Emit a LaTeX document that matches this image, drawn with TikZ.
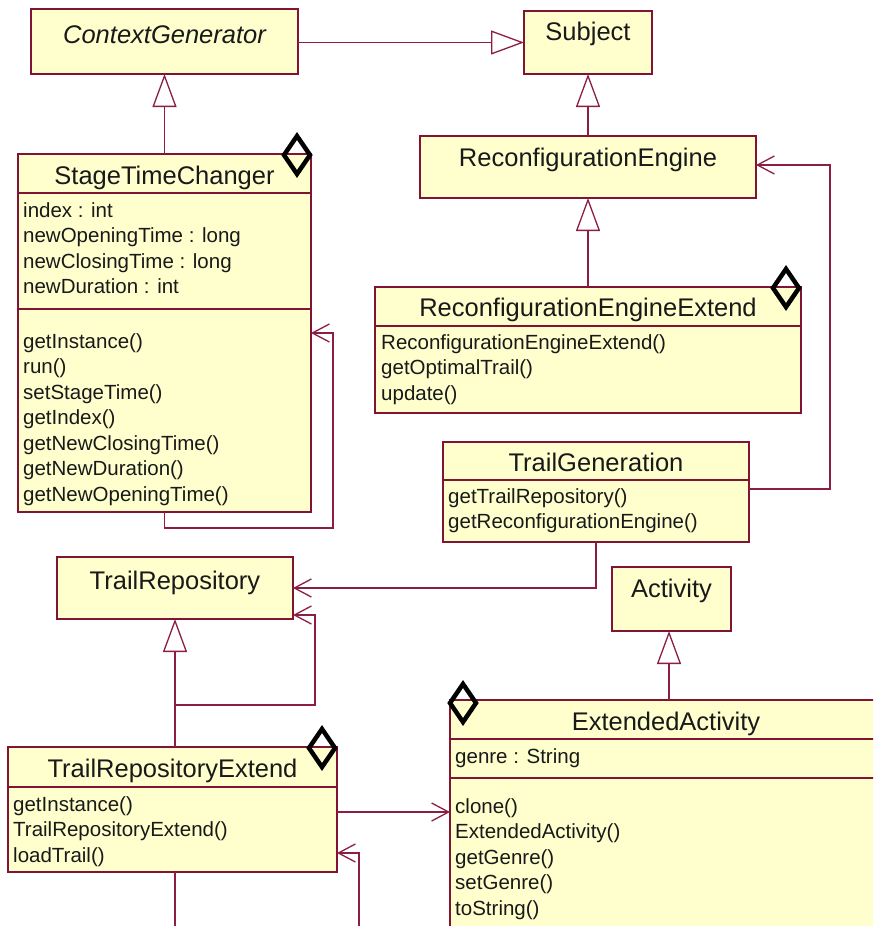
\documentclass[tikz,border=0pt]{standalone}
\usepackage{fontspec}
\setmainfont{Liberation Sans}
\usetikzlibrary{arrows.meta}
\definecolor{boxfill}{RGB}{255,255,206}
\definecolor{boxline}{RGB}{128,20,50}
\definecolor{linkline}{RGB}{140,30,70}
\definecolor{ink}{RGB}{25,25,25}
\tikzset{
  umlbox/.style={draw=boxline, fill=boxfill, line width=1.4pt, anchor=north west, inner sep=0pt, outer sep=0pt},
  title/.style={anchor=base, inner sep=0pt, text=ink, font=\fontsize{25.5}{30}\selectfont},
  member/.style={anchor=base west, inner sep=0pt, text=ink, font=\fontsize{20.5}{25}\selectfont},
  sepline/.style={draw=boxline, line width=1.4pt},
  gen/.style={draw=linkline, line width=1.3pt, -{Triangle[length=33pt,width=24pt,fill=white,line width=1.3pt]}},
  assoc/.style={draw=linkline, line width=1.3pt, -{Straight Barb[length=17pt,width=18pt,line width=1.3pt]}},
  aggmark/.style={draw=black, line width=4.5pt, miter limit=10},
}
% box: name, left, top, right, bottom (y grows downwards)
\newcommand\umlclass[5]{%
  \node[umlbox, minimum width={(#4-#2)*1pt}, minimum height={(#5-#3)*1pt}] (#1) at (#2,#3) {};}
\newcommand\hsep[3]{\draw[sepline] (#1,#3) -- (#2,#3);}
\newcommand\memberlist[4]{%
  \foreach \t [count=\i from 0] in {#4} {
    \node[member] (#1-\i) at ({#2},{#3+25.5*\i}) {\t};
  }}
\newcommand\aggdiamond[3]{%
  \draw[aggmark] (#2-13,#3) coordinate (#1) -- (#2,#3-19) -- (#2+13,#3) -- (#2,#3+19) -- cycle;}
\begin{document}
\begin{tikzpicture}[x=1pt,y=-1pt]
\path[use as bounding box, fill=white] (0,0) rectangle (873,926);
\clip (0,0) rectangle (873,926);

% ---- classes ----
\umlclass{cg}{31}{9}{298}{74}
\node[title, font=\fontsize{25.5}{30}\selectfont\itshape] (cg-t) at (164.5,43) {ContextGenerator};

\umlclass{subj}{524}{11}{652}{74}
\node[title] (subj-t) at (588,40.5) {Subject};

\umlclass{stc}{18}{154}{311}{512}
\hsep{18}{311}{193}
\hsep{18}{311}{309}
\node[title] (stc-t) at (164.5,184) {StageTimeChanger};
\memberlist{stca}{23}{217}{index : int,newOpeningTime : long,newClosingTime : long,newDuration : int}
\memberlist{stcm}{23}{348}{getInstance(),run(),setStageTime(),getIndex(),getNewClosingTime(),getNewDuration(),getNewOpeningTime()}

\umlclass{re}{420}{136}{756}{198}
\node[title] (re-t) at (588,166) {ReconfigurationEngine};

\umlclass{ree}{375}{287}{801}{413}
\hsep{375}{801}{326}
\node[title] (ree-t) at (588,316) {ReconfigurationEngineExtend};
\memberlist{reem}{381}{349}{ReconfigurationEngineExtend(),getOptimalTrail(),update()}

\umlclass{tg}{443}{442}{749}{542}
\hsep{443}{749}{480}
\node[title] (tg-t) at (596,471) {TrailGeneration};
\memberlist{tgm}{448}{503}{getTrailRepository(),getReconfigurationEngine()}

\umlclass{act}{612}{567}{731}{631}
\node[title] (act-t) at (671.5,597) {Activity};

\umlclass{tr}{57}{557}{293}{619}
\node[title] (tr-t) at (175,589) {TrailRepository};

\umlclass{tre}{8}{747}{337}{872}
\hsep{8}{337}{787}
\node[title] (tre-t) at (172.5,777) {TrailRepositoryExtend};
\memberlist{trem}{13}{811}{getInstance(),TrailRepositoryExtend(),loadTrail()}

\umlclass{ea}{450}{700}{882}{960}
\hsep{450}{882}{739}
\hsep{450}{882}{778}
\node[title] (ea-t) at (666,730) {ExtendedActivity};
\memberlist{eaa}{455}{763}{genre : String}
\memberlist{eam}{455}{813}{clone(),ExtendedActivity(),getGenre(),setGenre(),toString()}

% ---- route points ----
\coordinate (stcL1) at (164.5,528);
\coordinate (stcL2) at (333,528);
\coordinate (stcL3) at (333,333);
\coordinate (tgR) at (830,489);
\coordinate (tgU) at (830,165);
\coordinate (trA) at (175,705);
\coordinate (trB) at (315,705);
\coordinate (trC) at (315,615);
\coordinate (treR) at (337,812);
\coordinate (treL1) at (175,945);
\coordinate (treL2) at (359,945);
\coordinate (treL3) at (359,853);
\coordinate (gx) at (175,0);
\coordinate (ax) at (669,0);

% ---- generalizations ----
\draw[gen] (cg.east |- subj.west) -- (subj.west);
\draw[gen] (stc.north) -- (cg.south);
\draw[gen] (re.north) -- (subj.south);
\draw[gen] (ree.north) -- (re.south);
\draw[gen] (tre.north -| gx) -- (tr.south -| gx);
\draw[gen] (ea.north -| ax) -- (act.south -| ax);

% ---- associations ----
\draw[assoc] (stc.south) -- (stcL1) -- (stcL2) -- (stcL3) -- (stc.east |- stcL3);
\draw[assoc] (tg.east |- tgR) -- (tgR) -- (tgU) -- (re.east |- tgU);
\draw[assoc] (tg.south) |- (tr.east);
\draw[assoc] (tre.north -| trA) -- (trA) -- (trB) -- (trC) -- (tr.east |- trC);
\draw[assoc] (tre.east |- treR) -- (ea.west |- treR);
\draw[assoc] (tre.south -| treL1) -- (treL1) -- (treL2) -- (treL3) -- (tre.east |- treL3);

% ---- aggregation markers ----
\aggdiamond{stcd}{297}{155}
\aggdiamond{reed}{786}{288}
\aggdiamond{ead}{463}{703}
\aggdiamond{tred}{322}{748}
\end{tikzpicture}
\end{document}
